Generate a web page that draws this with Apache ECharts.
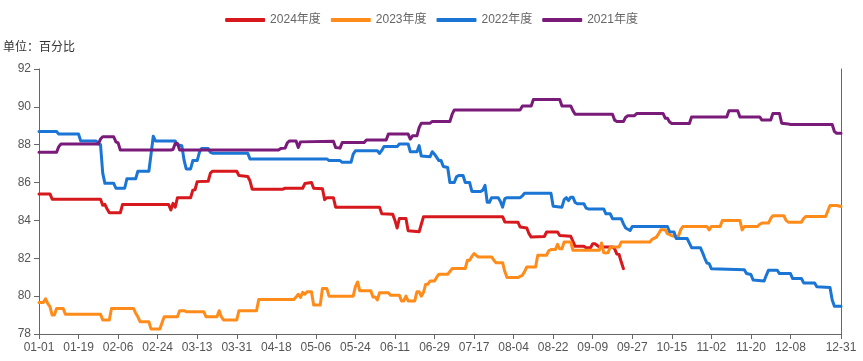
<!DOCTYPE html>
<html>
<head>
<meta charset="utf-8">
<script src="https://cdn.jsdelivr.net/npm/echarts@6/dist/echarts.min.js"></script>
<style>html,body{margin:0;padding:0;background:#fff}#c{width:863px;height:361px}</style>
</head>
<body>
<div id="c"></div>
<script>
// Category labels: every day of a leap year, MM-DD
const monthDays = [31,29,31,30,31,30,31,31,30,31,30,31];
const categories = [];
monthDays.forEach(function (n, m) {
  for (let d = 1; d <= n; d++) {
    categories.push(String(m + 1).padStart(2, '0') + '-' + String(d).padStart(2, '0'));
  }
});

const seriesNames = ['2024年度', '2023年度', '2022年度', '2021年度'];
const yTicks = [78, 80, 82, 84, 86, 88, 90, 92];

// [day index, value] readings at change points
const s2024 = [[0,85.4],[5,85.4],[6,85.12],[28,85.12],[29,84.8],[30,84.85],[31,84.6],[32,84.4],[37,84.4],[38,84.84],[59,84.84],[60,84.55],[61,84.9],[62,84.7],[63,85.2],[69,85.2],[70,85.6],[71,85.62],[72,86.05],[77,86.07],[78,86.5],[79,86.6],[90,86.6],[91,86.37],[95,86.32],[96,86.1],[97,85.65],[111,85.65],[112,85.7],[120,85.7],[121,85.95],[124,86.0],[125,85.7],[129,85.67],[130,85.1],[131,85.2],[134,85.2],[135,84.7],[155,84.7],[156,84.35],[161,84.32],[162,84.0],[163,83.6],[164,84.1],[167,84.1],[168,83.45],[173,83.4],[174,83.8],[175,84.2],[211,84.2],[212,83.92],[218,83.9],[219,83.65],[222,83.6],[223,83.3],[224,83.12],[230,83.15],[231,83.39],[236,83.39],[237,83.2],[242,83.16],[243,82.9],[244,82.63],[248,82.63],[249,82.56],[251,82.56],[252,82.77],[253,82.77],[255,82.6],[261,82.6],[262,82.5],[263,82.22],[264,82.2],[265,81.8],[266,81.45]];

const s2023 = [[0,79.67],[2,79.67],[3,79.86],[4,79.6],[5,79.44],[6,79.0],[7,79.0],[8,79.35],[11,79.35],[12,79.05],[28,79.05],[29,78.74],[32,78.74],[33,79.35],[43,79.35],[44,79.1],[45,78.91],[46,78.65],[50,78.65],[51,78.26],[55,78.26],[56,78.6],[57,78.91],[63,78.91],[64,79.23],[66,79.23],[67,79.18],[75,79.18],[76,78.91],[81,78.91],[82,79.23],[83,78.9],[84,78.74],[90,78.74],[91,79.23],[99,79.23],[100,79.82],[116,79.82],[117,79.95],[118,80.1],[119,79.93],[120,80.2],[121,80.1],[122,80.23],[124,80.23],[125,79.53],[128,79.53],[129,80.4],[131,80.4],[132,80.0],[143,80.0],[144,80.5],[145,80.75],[146,80.28],[151,80.28],[152,79.96],[153,79.96],[154,79.8],[155,80.18],[159,80.18],[160,80.05],[164,80.05],[165,79.75],[166,79.75],[167,80.0],[168,79.75],[171,79.75],[172,80.23],[173,80.23],[174,80.0],[175,80.2],[176,80.63],[177,80.63],[178,80.8],[180,80.8],[181,81.0],[182,81.16],[186,81.16],[187,81.3],[188,81.46],[194,81.46],[195,81.9],[196,81.9],[197,82.1],[198,82.25],[199,82.15],[200,82.07],[206,82.07],[207,81.9],[208,81.77],[211,81.77],[212,81.3],[213,80.98],[218,80.98],[219,81.05],[220,81.1],[221,81.3],[222,81.54],[226,81.54],[227,82.16],[231,82.16],[232,82.4],[233,82.46],[235,82.46],[236,82.74],[237,82.5],[238,82.5],[239,82.86],[242,82.86],[243,82.42],[255,82.42],[256,82.81],[257,82.3],[258,82.28],[259,82.3],[260,82.6],[264,82.6],[265,82.86],[278,82.86],[279,83.0],[281,83.12],[282,83.3],[283,83.51],[285,83.51],[286,83.3],[288,83.2],[289,83.16],[291,83.16],[292,83.5],[293,83.68],[304,83.68],[305,83.5],[306,83.68],[310,83.68],[311,84.0],[319,84.0],[320,83.5],[321,83.68],[327,83.68],[328,83.8],[329,83.86],[332,83.86],[333,84.1],[334,84.25],[339,84.25],[340,84.0],[341,83.91],[347,83.91],[348,84.1],[349,84.21],[358,84.21],[359,84.5],[360,84.79],[363,84.79],[365,84.74]];

const s2022 = [[0,88.7],[8,88.7],[9,88.56],[18,88.56],[19,88.2],[26,88.2],[27,88.05],[28,88.0],[29,86.5],[30,85.96],[34,85.96],[35,85.7],[39,85.7],[40,86.2],[44,86.2],[45,86.6],[50,86.6],[51,87.5],[52,88.45],[53,88.2],[62,88.2],[63,88.0],[65,87.95],[66,87.2],[67,86.72],[69,86.72],[70,87.16],[72,87.16],[73,87.6],[74,87.8],[77,87.8],[78,87.6],[79,87.55],[95,87.55],[96,87.25],[131,87.25],[132,87.16],[137,87.16],[138,87.07],[142,87.07],[143,87.5],[144,87.68],[154,87.68],[155,87.54],[156,87.7],[157,87.9],[163,87.9],[164,88.04],[168,88.04],[169,87.63],[172,87.63],[173,87.95],[174,87.4],[178,87.37],[179,87.63],[180,87.5],[182,87.16],[183,87.16],[184,86.85],[186,86.8],[187,86.0],[189,86.0],[190,86.3],[191,86.37],[193,86.37],[194,86.0],[196,86.0],[197,85.53],[201,85.53],[202,85.6],[203,85.85],[204,84.96],[205,84.96],[206,85.2],[209,85.2],[210,85.0],[211,84.7],[212,85.15],[213,85.2],[219,85.2],[220,85.3],[221,85.44],[233,85.44],[234,84.75],[238,84.7],[239,85.1],[240,85.2],[241,85.05],[242,85.23],[243,85.23],[244,84.95],[245,84.88],[248,84.88],[249,84.65],[250,84.61],[257,84.61],[258,84.35],[260,84.35],[261,84.09],[265,84.09],[266,83.82],[267,83.6],[269,83.47],[270,83.68],[286,83.68],[287,83.4],[289,83.39],[290,83.04],[295,83.04],[296,82.8],[297,82.56],[301,82.56],[302,82.3],[303,82.0],[304,81.75],[305,81.72],[306,81.45],[321,81.4],[322,81.2],[324,81.14],[325,80.85],[330,80.8],[331,81.1],[332,81.37],[336,81.37],[337,81.19],[342,81.19],[343,80.93],[347,80.93],[348,80.7],[353,80.7],[354,80.5],[360,80.46],[361,79.8],[362,79.47],[365,79.47]];

const s2021 = [[0,87.6],[8,87.6],[9,87.9],[10,88.04],[27,88.04],[28,88.3],[29,88.42],[34,88.42],[35,88.15],[36,88.1],[37,87.72],[60,87.72],[61,87.75],[62,88.07],[63,88.07],[64,87.72],[109,87.72],[110,87.8],[112,87.82],[113,88.1],[114,88.2],[117,88.2],[118,87.85],[119,88.15],[134,88.18],[135,87.85],[137,87.82],[138,88.12],[148,88.12],[149,88.25],[158,88.25],[159,88.56],[168,88.56],[169,88.3],[170,88.47],[172,88.47],[173,88.9],[174,89.14],[178,89.14],[179,89.23],[187,89.23],[188,89.6],[189,89.84],[219,89.84],[220,90.05],[224,90.05],[225,90.39],[237,90.39],[238,90.05],[242,90.05],[243,89.8],[244,89.61],[261,89.61],[262,89.3],[263,89.23],[266,89.23],[267,89.45],[268,89.53],[271,89.53],[272,89.65],[284,89.65],[285,89.4],[286,89.4],[287,89.2],[288,89.12],[296,89.12],[297,89.47],[313,89.47],[314,89.79],[318,89.79],[319,89.47],[328,89.47],[329,89.3],[333,89.3],[334,89.65],[337,89.65],[338,89.14],[341,89.1],[342,89.07],[361,89.07],[362,88.7],[363,88.6],[365,88.6]];

const colors = ['#d7181d', '#ff8c1a', '#1a75d4', '#7a1b7a'];
const FONT = '"Liberation Sans", "Noto Sans CJK SC", sans-serif';

const chart = echarts.init(document.getElementById('c'), null, {renderer: 'canvas'});
const dataList = [s2024, s2023, s2022, s2021];

chart.setOption({
  animation: false,
  color: colors,
  textStyle: {fontFamily: FONT},
  legend: {
    data: seriesNames,
    top: 9,
    left: 'center',
    icon: 'roundRect',
    itemWidth: 40,
    itemHeight: 4,
    itemGap: 10,
    textStyle: {color: '#666', fontSize: 12, fontFamily: FONT}
  },
  grid: {left: 37, right: 22, top: 69, bottom: 27, containLabel: false},
  xAxis: {
    type: 'category',
    data: categories,
    boundaryGap: false,
    axisLine: {lineStyle: {color: '#666'}},
    axisTick: {lineStyle: {color: '#666'}},
    axisLabel: {interval: 17, showMaxLabel: true, color: '#555', fontSize: 12, margin: 8, fontFamily: FONT},
    splitLine: {show: false}
  },
  yAxis: [{
    type: 'value',
    min: yTicks[0],
    max: yTicks[yTicks.length - 1],
    interval: 2,
    name: '单位：百分比',
    nameLocation: 'end',
    nameGap: 15,
    nameTextStyle: {color: '#333', fontSize: 12, fontFamily: FONT},
    axisLine: {show: true, lineStyle: {color: '#666'}},
    axisTick: {show: true, lineStyle: {color: '#666'}},
    axisLabel: {color: '#555', fontSize: 12, margin: 8, fontFamily: FONT},
    splitLine: {show: false}
  }, {
    type: 'value',
    position: 'right',
    min: yTicks[0],
    max: yTicks[yTicks.length - 1],
    interval: 2,
    axisLine: {show: true, lineStyle: {color: '#666'}},
    axisTick: {show: false},
    axisLabel: {show: false},
    splitLine: {show: false}
  }],
  series: seriesNames.map(function (name, i) {
    return {
      name: name,
      type: 'line',
      yAxisIndex: 0,
      data: dataList[i],
      symbol: 'none',
      showSymbol: false,
      lineStyle: {width: 3, color: colors[i], cap: 'round', join: 'round'},
      itemStyle: {color: colors[i]}
    };
  })
});
</script>
</body>
</html>
